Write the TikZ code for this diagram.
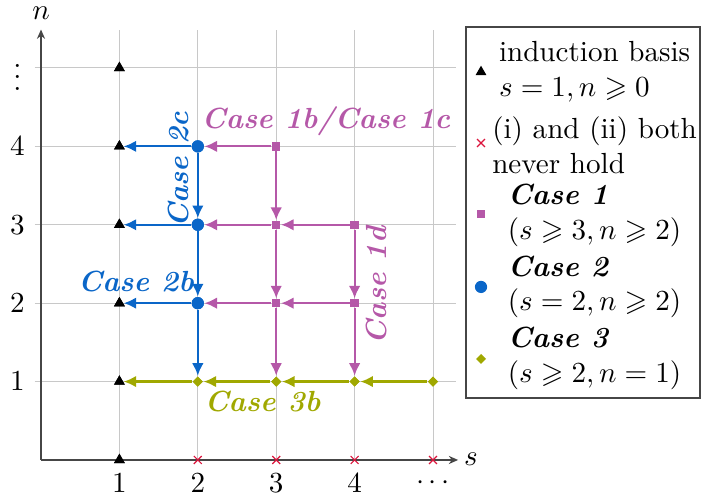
\documentclass[tikz,border=0pt]{standalone}
\usepackage{amssymb}
\usetikzlibrary{arrows.meta,shapes.geometric,shapes.misc}
\definecolor{cblue}{RGB}{10,102,200}
\definecolor{cmag}{RGB}{181,88,168}
\definecolor{cgreen}{RGB}{160,168,0}
\definecolor{cred}{RGB}{220,20,60}
\definecolor{gridc}{RGB}{200,200,200}
\definecolor{axisc}{RGB}{70,70,70}
\tikzset{
  tri/.style={regular polygon,regular polygon sides=3,fill=black,inner sep=0pt,minimum size=4.3pt},
  xmark/.style={cross out,draw=cred,line width=0.4pt,inner sep=0pt,minimum size=2.3pt},
  sqmark/.style={rectangle,fill=cmag,inner sep=0pt,minimum size=2.9pt},
  dotmark/.style={circle,fill=cblue,inner sep=0pt,minimum size=4.2pt},
  dmmark/.style={diamond,fill=cgreen,inner sep=0pt,minimum size=3.6pt},
  gridline/.style={gridc,line width=0.35pt},
  axisline/.style={axisc,line width=0.45pt,-{Stealth[length=3.2pt,width=2.8pt]}},
  arr/.style={line width=0.75pt,-{Latex[length=4.3pt,width=4pt]}},
  barr/.style={arr,cblue},
  marr/.style={arr,cmag},
  garr/.style={arr,cgreen},
  casel/.style={font=\bfseries\itshape},
  legtext/.style={align=left,inner sep=0pt},
}
\begin{document}
\begin{tikzpicture}[x=26.94pt,y=26.94pt]
\useasboundingbox (-0.523,-0.510) rectangle (8.418,5.867);
% grid
\foreach \k in {1,...,5} {
  \draw[gridline] (-0.08,\k) -- (5.29,\k);
  \draw[gridline] (\k,0) -- (\k,5.48);
}
% axes
\coordinate (O) at (0,0);
\coordinate (xend) at (5.32,0);
\coordinate (yend) at (0,5.49);
\draw[axisline] (O) -- (xend);
\draw[axisline] (O) -- (yend);
\node[inner sep=0pt] (xlab) at (5.485,0.01) {$s$};
\node[inner sep=0pt] (ylab) at (0,5.70) {$n$};
% tick labels
\foreach \k in {1,...,4} {
  \node (xt\k) at (\k,-0.293) {$\k$};
  \node (yt\k) at (-0.30,\k) {$\k$};
}
\node (xt5) at (5,-0.293) {$\cdots$};
\node[anchor=base,inner sep=0pt] (yt5) at (-0.30,4.713) {$\vdots$};
% markers
\foreach \k in {0,...,5} \node[tri] (t\k) at (1,\k) {};
\foreach \k in {2,...,5} \node[xmark] (x\k) at (\k,0) {};
\node[dotmark] (c4) at (2,4) {};
\node[dotmark] (c3) at (2,3) {};
\node[dotmark] (c2) at (2,2) {};
\node[sqmark] (s34) at (3,4) {};
\node[sqmark] (s33) at (3,3) {};
\node[sqmark] (s32) at (3,2) {};
\node[sqmark] (s43) at (4,3) {};
\node[sqmark] (s42) at (4,2) {};
\node[dmmark] (d2) at (2,1) {};
\node[dmmark] (d3) at (3,1) {};
\node[dmmark] (d4) at (4,1) {};
\node[dmmark] (d5) at (5,1) {};
% blue arrows
\draw[barr] (c4) -- (t4);
\draw[barr] (c4) -- (c3);
\draw[barr] (c3) -- (t3);
\draw[barr] (c3) -- (c2);
\draw[barr] (c2) -- (t2);
\draw[barr] (c2) -- (d2);
% magenta arrows
\draw[marr] (s34) -- (c4);
\draw[marr] (s34) -- (s33);
\draw[marr] (s33) -- (c3);
\draw[marr] (s33) -- (s32);
\draw[marr] (s43) -- (s33);
\draw[marr] (s43) -- (s42);
\draw[marr] (s32) -- (c2);
\draw[marr] (s32) -- (d3);
\draw[marr] (s42) -- (s32);
\draw[marr] (s42) -- (d4);
% green arrows
\draw[garr] (d5) -- (d4);
\draw[garr] (d4) -- (d3);
\draw[garr] (d3) -- (d2);
\draw[garr] (d2) -- (t1);
% redraw markers on top
\foreach \k in {0,...,5} \node[tri] at (1,\k) {};
\node[dotmark] at (2,4) {};
\node[dotmark] at (2,3) {};
\node[dotmark] at (2,2) {};
\node[sqmark] at (3,4) {};
\node[sqmark] at (3,3) {};
\node[sqmark] at (3,2) {};
\node[sqmark] at (4,3) {};
\node[sqmark] at (4,2) {};
\node[dmmark] at (2,1) {};
\node[dmmark] at (3,1) {};
\node[dmmark] at (4,1) {};
\node[dmmark] at (5,1) {};
% case labels
\node[casel,cblue,rotate=90,anchor=base,inner sep=0pt] (l2c) at (1.875,3.70) {Case 2c};
\node[casel,cmag,anchor=base,inner sep=0pt] (l1b) at (3.635,4.222) {Case 1b/Case 1c};
\node[casel,cmag,rotate=90,anchor=base,inner sep=0pt] (l1d) at (4.401,2.226) {Case 1d};
\node[casel,cblue,anchor=base,inner sep=0pt] (l2b) at (1.212,2.143) {Case 2b};
\node[casel,cgreen,anchor=base,inner sep=0pt] (l3b) at (2.825,0.612) {Case 3b};
% legend
\draw[axisc,line width=0.45pt,fill=white] (5.421,0.791) rectangle (8.406,5.523);
\node[tri] (lg1) at (5.612,4.949) {};
\node[xmark] (lg2) at (5.612,4.043) {};
\node[sqmark] (lg3) at (5.612,3.138) {};
\node[dotmark] (lg4) at (5.612,2.207) {};
\node[dmmark] (lg5) at (5.612,1.288) {};
\node[legtext] (lt1) at (7.061,4.95) {induction basis\\$s=1, n\geqslant 0$};
\node[legtext] (lt2) at (7.061,4.02) {(i) and (ii) both\\never hold};
\node[legtext] (lt3) at (7.061,3.125) {\textbf{\textit{Case 1}}\\$(s\geqslant 3, n\geqslant 2)$};
\node[legtext] (lt4) at (7.061,2.207) {\textbf{\textit{Case 2}}\\$(s=2, n\geqslant 2)$};
\node[legtext] (lt5) at (7.061,1.30) {\textbf{\textit{Case 3}}\\$(s\geqslant 2, n=1)$};
\end{tikzpicture}
\end{document}
